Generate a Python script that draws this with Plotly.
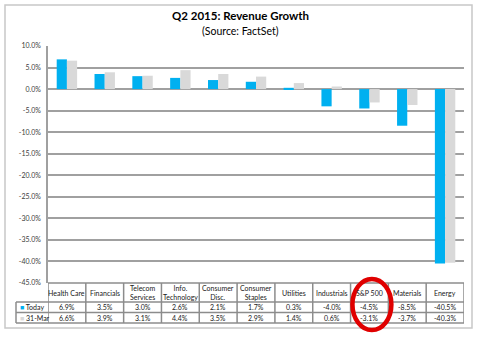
import plotly.graph_objects as go

categories = ["Health Care", "Financials", "Telecom<br>Services", "Info.<br>Technology",
              "Consumer<br>Disc.", "Consumer<br>Staples", "Utilities", "Industrials",
              "S&P 500", "Materials", "Energy"]
today = [6.9, 3.5, 3.0, 2.6, 2.1, 1.7, 0.3, -4.0, -4.5, -8.5, -40.5]
mar31 = [6.6, 3.9, 3.1, 4.4, 3.5, 2.9, 1.4, 0.6, -3.1, -3.7, -40.3]
series_names = ["Today", "31-Mar"]
tick_vals = [10, 5, 0, -5, -10, -15, -20, -25, -30, -35, -40, -45]
tick_text = ["%.1f%%" % v for v in tick_vals]

BLUE = "#00b0f0"
GRAY = "#d9d9d9"
LINE = "#a0a0a0"
FONT = "Lato"

W, H = 478, 340
L, R, T, B = 48, 14, 46, 57
PW, PH = W - L - R, H - T - B

def px_x(x):
    return (x - L) / PW

def px_y(y):
    return (H - B - y) / PH

xs = list(range(len(categories)))

fig = go.Figure()
fig.add_trace(go.Bar(x=xs, y=today, name=series_names[0], marker_color=BLUE,
                     marker_line_width=0))
fig.add_trace(go.Bar(x=xs, y=mar31, name=series_names[1], marker_color=GRAY,
                     marker_line_width=0))

shapes = []
annotations = []

# outer frame
shapes.append(dict(type="rect", xref="paper", yref="paper",
                   x0=px_x(5), x1=px_x(472), y0=px_y(328), y1=px_y(5),
                   line=dict(color="#c8c8c8", width=1.5), layer="below"))

# table geometry (pixels)
t_top, r1, r2, t_bot = 283, 302, 312.5, 323
leg_left = 16
n = len(categories)

# horizontal table lines
for y, x0 in [(t_top, L), (r1, leg_left), (r2, leg_left), (t_bot, leg_left)]:
    shapes.append(dict(type="line", xref="paper", yref="paper",
                       x0=px_x(x0), x1=px_x(W - R), y0=px_y(y), y1=px_y(y),
                       line=dict(color="#8c8c8c", width=1.5)))
# vertical table lines
shapes.append(dict(type="line", xref="paper", yref="paper",
                   x0=px_x(leg_left), x1=px_x(leg_left), y0=px_y(r1), y1=px_y(t_bot),
                   line=dict(color="#8c8c8c", width=1.5)))
for k in range(n + 1):
    shapes.append(dict(type="line", xref="x", yref="paper",
                       x0=k - 0.5, x1=k - 0.5, y0=px_y(t_top), y1=px_y(t_bot),
                       line=dict(color="#8c8c8c", width=1.5)))

# table text
for i, c in enumerate(categories):
    annotations.append(dict(x=i, y=px_y((t_top + r1) / 2), xref="x", yref="paper",
                            text=c, showarrow=False, font=dict(size=7, family=FONT, color="#202020"),
                            yanchor="middle"))
    annotations.append(dict(x=i, y=px_y((r1 + r2) / 2), xref="x", yref="paper",
                            text="%.1f%%" % today[i], showarrow=False,
                            font=dict(size=7, family=FONT, color="#202020"), yanchor="middle"))
    annotations.append(dict(x=i, y=px_y((r2 + t_bot) / 2), xref="x", yref="paper",
                            text="%.1f%%" % mar31[i], showarrow=False,
                            font=dict(size=7, family=FONT, color="#202020"), yanchor="middle"))

for name, col, y0, y1 in [(series_names[0], BLUE, r1, r2), (series_names[1], GRAY, r2, t_bot)]:
    annotations.append(dict(x=px_x(leg_left + 2), y=px_y((y0 + y1) / 2), xref="paper", yref="paper",
                            text="<span style='color:%s'>■</span> %s" % (col, name),
                            showarrow=False, xanchor="left", yanchor="middle",
                            font=dict(size=7, family=FONT, color="#202020")))

# title
annotations.append(dict(x=px_x(240), y=px_y(16), xref="paper", yref="paper",
                        text="<b>Q2 2015: Revenue Growth</b>", showarrow=False,
                        font=dict(size=11.5, family=FONT, color="#000000"), yanchor="middle"))
annotations.append(dict(x=px_x(240), y=px_y(31), xref="paper", yref="paper",
                        text="(Source: FactSet)", showarrow=False,
                        font=dict(size=10.5, family=FONT, color="#000000"), yanchor="middle"))

# red highlight ellipse around S&P 500 column
sp = categories.index("S&P 500")
shapes.append(dict(type="circle", xref="x", yref="paper",
                   x0=sp - 0.45, x1=sp + 0.58, y0=px_y(330), y1=px_y(279),
                   line=dict(color="#e00000", width=4.5)))

fig.update_layout(
    width=W, height=H,
    margin=dict(l=L, r=R, t=T, b=B),
    paper_bgcolor="white", plot_bgcolor="white",
    showlegend=False,
    barmode="group", bargap=0.46, bargroupgap=0,
    shapes=shapes, annotations=annotations,
    xaxis=dict(range=[-0.5, n - 0.5], showticklabels=False, showgrid=False,
               zeroline=False, showline=False, fixedrange=True),
    yaxis=dict(range=[-45, 10], tickvals=tick_vals, ticktext=tick_text,
               showgrid=True, gridcolor=LINE, gridwidth=1.5, zeroline=False,
               showline=True, linecolor=LINE, linewidth=1.5,
               tickfont=dict(size=7, family=FONT, color="#404040"),
               ticks="", ticklabelstandoff=4),
)

fig.write_html("out.html")
